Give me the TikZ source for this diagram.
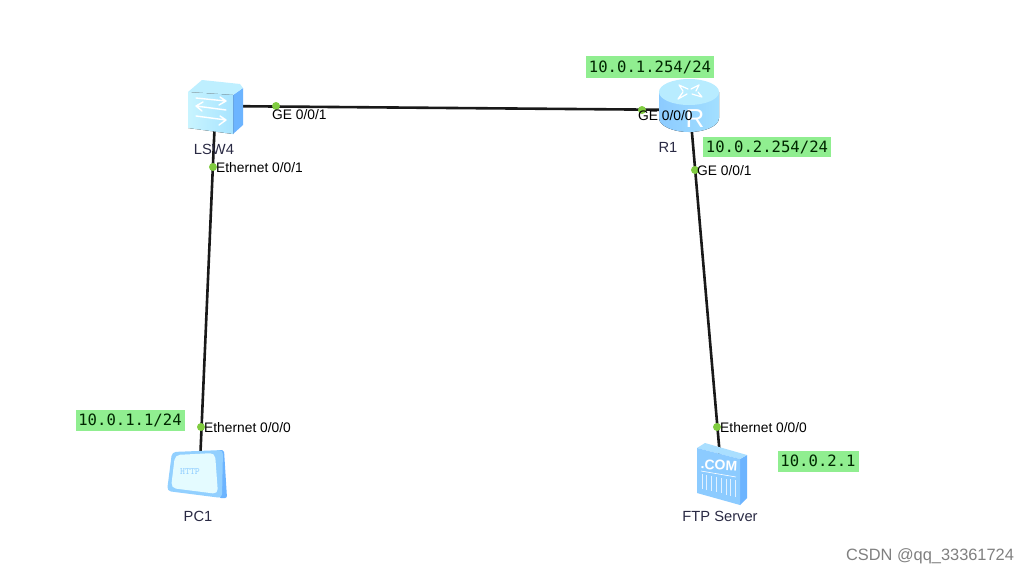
\documentclass[tikz,border=0pt]{standalone}
\usepackage{fontspec}
\setmainfont{Liberation Sans}
\newfontfamily\ipfont{DejaVu Sans Mono}
\definecolor{ipgreen}{HTML}{90EE90}
\definecolor{dotgreen}{HTML}{80CC40}
\definecolor{icA}{HTML}{A8E4FF}
\definecolor{icB}{HTML}{6CB4FF}
\definecolor{icC}{HTML}{C8F4FF}
\definecolor{icD}{HTML}{8CCBFF}
\definecolor{icE}{HTML}{E4FBFF}
\definecolor{devtext}{HTML}{2A2A44}
\tikzset{
  devnode/.style={minimum size=20pt,inner sep=0pt},
  linkline/.style={draw=black!90,line width=2.6pt},
  portdot/.style={circle,fill=dotgreen,minimum size=8pt,inner sep=0pt},
  portlabel/.style={anchor=west,inner sep=0pt,font=\fontsize{13.8}{15}\selectfont,text=black},
  devlabel/.style={inner sep=0pt,font=\fontsize{14.7}{16}\selectfont,text=devtext},
  iplabel/.style={fill=ipgreen,inner sep=0pt,font=\ipfont\fontsize{15.6}{18}\selectfont,text=black!85!green},
  whiteline/.style={draw=white,line width=1.3pt,line cap=round,line join=round}
}
\begin{document}
\begin{tikzpicture}[x=1pt,y=-1pt]
\useasboundingbox (0,0) rectangle (1030,574);
\fill[white] (0,0) rectangle (1030,574);
% anchors of the devices
\node[devnode] (lsw) at (215.5,106) {};
\node[devnode] (r1) at (690,110) {};
\node[devnode] (pc1) at (199.5,475) {};
\node[devnode] (ftp) at (722,480) {};
% connectors
\draw[linkline] (lsw.center) -- (r1.center);
\draw[linkline] (lsw.center) -- (pc1.center);
\draw[linkline] (r1.center) -- (ftp.center);
% switch icon
\fill[icB] (233,95) -- (243,88) -- (243,125) -- (233,134) -- cycle;
\fill[icC!70!icA] (202,80) -- (240,84) -- (243,88) -- (233,95) -- (188,92) -- cycle;
\fill[left color=icC,right color=icA] (188,92) -- (233,95) -- (233,134) -- (188,128) -- cycle;
\draw[whiteline,line width=1.4pt] (196,98) -- (226,101) (220,97) -- (226,101) -- (219,105);
\draw[whiteline,line width=1.4pt] (226,110) -- (196,106) (203,102) -- (196,106) -- (202,111);
\draw[whiteline,line width=1.4pt] (196,116) -- (226,120) (220,116) -- (226,120) -- (219,125);
% router icon
\fill[left color=icD,right color=icA!80!icD] (659,92) -- (659,118) arc[start angle=180,end angle=0,x radius=30,y radius=14] -- (719,92) -- cycle;
\fill[icC!50!icA] (689,92) ellipse[x radius=30,y radius=13];
\draw[whiteline,line width=1.2pt] (679,85) -- (688,89) (679,85) -- (683,91)
  (699,85) -- (691,89) (699,85) -- (696,91)
  (678,99) -- (687,94) (678,99) -- (683,92)
  (702,97) -- (692,94) (702,97) -- (698,92);
\node[inner sep=0pt,font=\fontsize{26}{28}\selectfont,text=white] (rmark) at (695,119) {R};
% pc icon
\fill[icB,rounded corners=2pt] (218,450) -- (224,450) -- (227,498) -- (219,498) -- cycle;
\fill[icD!80!icA,rounded corners=4pt] (172,452) -- (223,450) -- (222,498) -- (167,491) -- cycle;
\fill[icE,rounded corners=5pt] (175,455) -- (215,453) -- (218,494) -- (171,488) -- cycle;
\node[inner sep=0pt,font=\ttfamily\fontsize{9.5}{10}\selectfont,text=icD] (httpmark) at (190,472) {HTTP};
% server icon
\fill[icB] (740,459) -- (747,455) -- (747,498) -- (740,505) -- cycle;
\fill[icC!50!icD] (697,448) -- (705,443) -- (747,455) -- (740,459) -- cycle;
\fill[icD] (697,448) -- (740,459) -- (740,505) -- (697,493) -- cycle;
\node[inner sep=0pt,rotate=-3,font=\bfseries\fontsize{14}{15}\selectfont,text=white] (commark) at (719,465) {.COM};
\draw[white,line width=.6pt] (701,471) -- (736,477);
\foreach \i in {0,...,7} {\draw[white,line width=1pt,opacity=.75] ({702+\i*4.8},{474+\i*.9}) -- ({702+\i*4.8},{489+\i*1.1});}
% port dots
\node[portdot] (d1) at (276,106) {};
\node[portdot] (d2) at (642,110) {};
\node[portdot] (d3) at (213,167) {};
\node[portdot] (d4) at (201,427) {};
\node[portdot] (d5) at (695,170) {};
\node[portdot] (d6) at (717,427) {};
% port labels
\node[portlabel] (p1) at (272,114.5) {GE 0/0/1};
\node[portlabel] (p2) at (638,115.5) {GE 0/0/0};
\node[portlabel] (p3) at (216,168) {Ethernet 0/0/1};
\node[portlabel] (p4) at (204,428) {Ethernet 0/0/0};
\node[portlabel] (p5) at (697,171) {GE 0/0/1};
\node[portlabel] (p6) at (720,428) {Ethernet 0/0/0};
% device labels
\node[devlabel] (l1) at (214,149) {LSW4};
\node[devlabel] (l2) at (668,147) {R1};
\node[devlabel] (l3) at (198,516) {PC1};
\node[devlabel] (l4) at (720,516) {FTP Server};
% addresses
\node[iplabel,minimum width=128pt,minimum height=22pt] (a1) at (650,67) {10.0.1.254/24};
\node[iplabel,minimum width=128pt,minimum height=20pt] (a2) at (767,147) {10.0.2.254/24};
\node[iplabel,minimum width=109pt,minimum height=21pt] (a3) at (130,420) {10.0.1.1/24};
\node[iplabel,minimum width=81pt,minimum height=21pt] (a4) at (818,461) {10.0.2.1};
% watermark
\node[inner sep=0pt,font=\fontsize{16.4}{18}\selectfont,text=black!50] (wm) at (930,556) {CSDN @qq\_33361724};
\end{tikzpicture}
\end{document}
